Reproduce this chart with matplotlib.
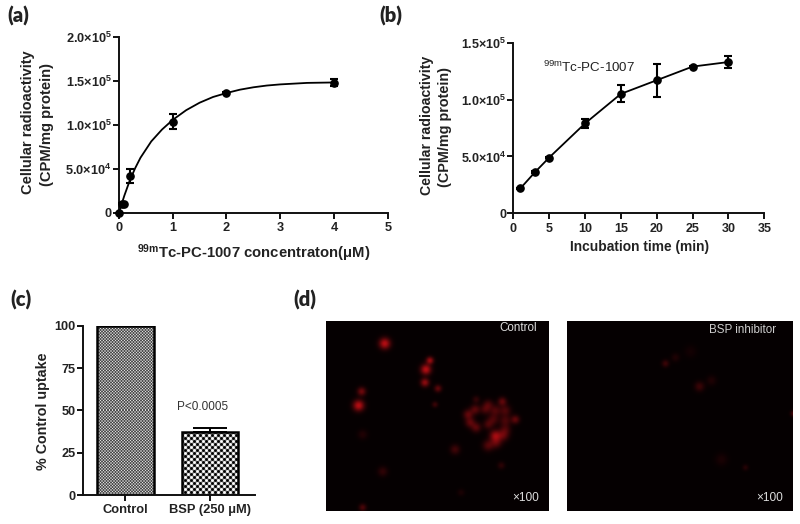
# plot.py - four panel uptake figure: saturation, time course, inhibition, microscopy
import numpy as np
import matplotlib
matplotlib.use("Agg")
import matplotlib.pyplot as plt

W, H = 800, 524
INK = "#222222"

plt.rcParams["font.family"] = ["Liberation Sans", "DejaVu Sans"]
plt.rcParams["font.weight"] = "bold"
plt.rcParams["mathtext.default"] = "regular"

# -------------------------------
# Panel (a): concentration curve
# -------------------------------
conc = [0, 0.05, 0.1, 0.2, 1, 2, 4]
conc_uptake = [0, 10000, 10000, 42000, 103500, 136500, 147500]
conc_err = [0, 500, 500, 8000, 8500, 1000, 4000]
conc_fit_x = [0, 0.05, 0.1, 0.2, 0.3, 0.4, 0.6, 0.8, 1, 1.25, 1.5, 1.75, 2, 2.25, 2.5, 2.75, 3, 3.5, 4]
conc_fit_y = [0, 10000, 19500, 36500, 50500, 62500, 81000, 94500, 105500, 116500,
              125000, 131500, 136000, 139800, 142500, 144500, 145800, 147500, 148000]
conc_xticks = [0, 1, 2, 3, 4, 5]
conc_yticks = [0, 50000, 100000, 150000, 200000]
conc_ylabels = ["0", "5.0×10$^{4}$", "1.0×10$^{5}$", "1.5×10$^{5}$", "2.0×10$^{5}$"]

# -------------------------------
# Panel (b): time course
# -------------------------------
time_min = [1, 3, 5, 10, 15, 20, 25, 30]
time_uptake = [22000, 36000, 49000, 79000, 105000, 117000, 129000, 133000]
time_err = [500, 800, 800, 4000, 7500, 14500, 800, 5500]
time_xticks = [0, 5, 10, 15, 20, 25, 30, 35]
time_yticks = [0, 50000, 100000, 150000]
time_ylabels = ["0", "5.0×10$^{4}$", "1.0×10$^{5}$", "1.5×10$^{5}$"]

# -------------------------------
# Panel (c): inhibition bars
# -------------------------------
groups = ["Control", "BSP (250 μM)"]
group_uptake = [100, 37]
group_err = [0, 2.5]
group_yticks = [0, 25, 50, 75, 100]

# -------------------------------
# Panel (d): fluorescence spots, pixels from image corner
# -------------------------------
control_x = [58, 103, 99, 98, 111, 108, 35, 32, 36, 56, 128, 174, 134, 36,
             141, 143, 149, 148, 158, 149, 161, 175, 168, 178, 166, 178, 188,
             161, 168, 176, 161, 169, 178]
control_y = [22, 39, 48, 61, 67, 83, 70, 84, 113, 150, 128, 144, 171, 186,
             93, 101, 106, 88, 88, 78, 83, 80, 89, 89, 98, 99, 98,
             103, 114, 114, 124, 121, 108]
control_r = [4.5, 3, 4.2, 3.5, 3, 2.5, 3.5, 4.5, 4, 4, 4, 3, 3, 3,
             4, 4, 4, 4, 4, 3, 4, 3.5, 4.5, 4.5, 4.5, 4.5, 3.5,
             4, 4.5, 4.5, 4.5, 4.5, 4.5]
control_i = [0.85, 0.7, 0.85, 0.65, 0.42, 0.25, 0.5, 0.85, 0.13, 0.2, 0.28, 0.18, 0.1, 0.33,
             0.42, 0.4, 0.38, 0.38, 0.3, 0.2, 0.3, 0.42, 0.32, 0.32, 0.3, 0.3, 0.42,
             0.3, 0.65, 0.38, 0.35, 0.38, 0.28]

inhib_x = [98, 108, 132, 144, 123, 226, 154, 178]
inhib_y = [42, 36, 65, 59, 30, 92, 138, 146]
inhib_r = [3, 3.5, 4, 4, 5, 2.5, 5, 2.5]
inhib_i = [0.25, 0.12, 0.25, 0.12, 0.07, 0.3, 0.1, 0.15]

panel_labels = ["(a)", "(b)", "(c)", "(d)"]


def axes_px(fig, left, top, right, bottom):
    # axes from pixel box, y counted from the top like in the picture
    return fig.add_axes([left / W, 1 - bottom / H, (right - left) / W, (bottom - top) / H])


def txt(fig, x, y, s, **kw):
    kw.setdefault("ha", "center")
    kw.setdefault("va", "center")
    kw.setdefault("color", INK)
    return fig.text(x / W, 1 - y / H, s, **kw)


def style(ax, size=9.2):
    for side in ["top", "right"]:
        ax.spines[side].set_visible(False)
    for side in ["left", "bottom"]:
        ax.spines[side].set_linewidth(1.4)
        ax.spines[side].set_color("#111111")
    ax.tick_params(width=1.4, length=4, labelsize=size, labelcolor=INK, color="#111111")
    ax.tick_params(axis="y", pad=1.2)
    ax.tick_params(axis="x", pad=2.8)


def spots(width, height, xs, ys, rs, vals):
    # sum of round spots on a nearly black background
    yy, xx = np.mgrid[0:height, 0:width]
    red = np.zeros((height, width))
    for x, y, r, v in zip(xs, ys, rs, vals):
        red += v * np.exp(-((xx - x) ** 2 + (yy - y) ** 2) / (2 * (r * 0.85) ** 2))
    red = np.clip(red, 0, 1)
    img = np.zeros((height, width, 3))
    img[..., 0] = 0.02 + 0.8 * red
    img[..., 1] = 0.0 + 0.06 * red
    img[..., 2] = 0.005 + 0.08 * red
    return img


def checker_fill(ax, bar, cell, gain):
    # soft checkerboard, cell size in pixels, painted inside the bar rectangle
    x0, y0 = bar.get_x(), bar.get_y()
    x1, y1 = x0 + bar.get_width(), y0 + bar.get_height()
    (px0, py0), (px1, py1) = ax.transData.transform([(x0, y0), (x1, y1)])
    yy, xx = np.mgrid[0:int(round(py1 - py0)), 0:int(round(px1 - px0))]
    pat = 0.5 + 0.5 * np.clip(gain * np.cos(np.pi * xx / cell) * np.cos(np.pi * yy / cell), -1, 1)
    ax.imshow(pat, extent=(x0, x1, y0, y1), cmap="gray", vmin=0, vmax=1, aspect="auto",
              interpolation="none", zorder=1)


fig = plt.figure(figsize=(W / 100, H / 100), dpi=100)

# panel a
ax = axes_px(fig, 119, 36.7, 387.7, 212.7)
ax.plot(conc_fit_x, conc_fit_y, color="black", lw=1.3, clip_on=False)
ax.errorbar(conc, conc_uptake, yerr=conc_err, fmt="o", color="black", ms=5.2, elinewidth=1.5,
            capsize=3, capthick=1.5, clip_on=False, zorder=3)
ax.set_xlim(0, 5)
ax.set_ylim(0, 200000)
ax.set_xticks(conc_xticks)
ax.set_yticks(conc_yticks)
ax.set_yticklabels(conc_ylabels)
style(ax)
txt(fig, 254, 253, "$^{99m}$Tc-PC-1007 concentraton(μM)", fontsize=10.7)
txt(fig, 28, 122, "Cellular radioactivity", fontsize=10.5, rotation=90)
txt(fig, 46.5, 124, "(CPM/mg protein)", fontsize=10.6, rotation=90)

# panel b
ax = axes_px(fig, 513.3, 42.7, 764.3, 213.3)
ax.errorbar(time_min, time_uptake, yerr=time_err, fmt="-o", color="black", ms=5.2, lw=1.3,
            elinewidth=1.5, capsize=3, capthick=1.5, clip_on=False, zorder=3)
ax.set_xlim(0, 35)
ax.set_ylim(0, 150000)
ax.set_xticks(time_xticks)
ax.set_yticks(time_yticks)
ax.set_yticklabels(time_ylabels)
style(ax, size=9)
ax.text(4.1, 128600, "$^{99m}$Tc-PC-1007", fontsize=9.6, fontweight="normal", color=INK, va="center", ha="left")
txt(fig, 639, 246.5, "Incubation time (min)", fontsize=9.9)
txt(fig, 427, 125, "Cellular radioactivity", fontsize=10.2, rotation=90)
txt(fig, 444.5, 127, "(CPM/mg protein)", fontsize=10.4, rotation=90)

# panel c
ax = axes_px(fig, 82.7, 325.7, 255, 495)
pos = [0, 1]
ax.set_xlim(-0.503, 1.531)
ax.set_ylim(0, 100)
bars = ax.bar(pos, group_uptake, width=0.67, facecolor="none", edgecolor="black", linewidth=1.8, zorder=2)
checker_fill(ax, bars[0], 1.5, 0.75)
checker_fill(ax, bars[1], 3, 1.7)
ax.errorbar(pos[1], group_uptake[1], yerr=[[0], [group_err[1]]], color="black", elinewidth=1.4,
            capsize=12, capthick=1.4, zorder=3)
ax.set_xlim(-0.503, 1.531)
ax.set_ylim(0, 100)
ax.set_xticks(pos)
ax.set_xticklabels(groups)
ax.set_yticks(group_yticks)
style(ax)
ax.tick_params(axis="x", labelsize=9.3, pad=2.4)
ax.text(0.917, 52.2, "P<0.0005", fontsize=8.5, fontweight="normal", color="#333333", ha="center", va="center")
txt(fig, 43, 411, "% Control uptake", fontsize=10.3, rotation=90)

# panel d
img_left = axes_px(fig, 325.7, 320.7, 547.7, 510.7)
img_left.imshow(spots(222, 190, control_x, control_y, control_r, control_i), aspect="auto", interpolation="bilinear")
img_left.axis("off")
txt(fig, 518.5, 327.7, "Control", fontsize=8.4, fontweight="normal", color="#dddddd")
txt(fig, 526, 498, "×100", fontsize=8.6, fontweight="normal", color="#dddddd")

img_right = axes_px(fig, 566.7, 320.7, 792.3, 510.7)
img_right.imshow(spots(226, 190, inhib_x, inhib_y, inhib_r, inhib_i), aspect="auto", interpolation="bilinear")
img_right.axis("off")
txt(fig, 742.5, 330, "BSP inhibitor", fontsize=8.4, fontweight="normal", color="#cccccc")
txt(fig, 770, 498, "×100", fontsize=8.6, fontweight="normal", color="#dddddd")

# panel letters
for (x, y), s in zip([(18, 16), (391, 16), (21, 300), (305, 300)], panel_labels):
    txt(fig, x, y, s, fontsize=14.5, family="Lato", fontweight="heavy", color="#222222")

fig.savefig("out.png", dpi=100)
